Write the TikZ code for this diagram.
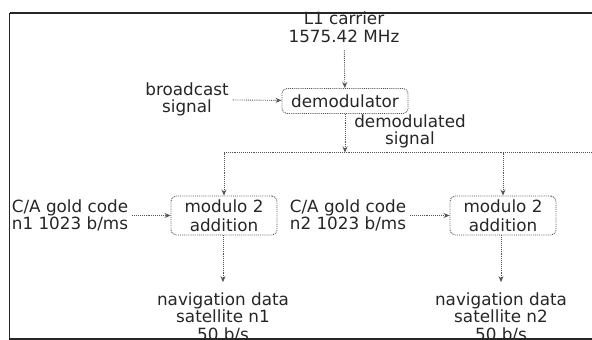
\documentclass[tikz,border=0pt]{standalone}
\usepackage{fontspec}
\setmainfont{DejaVu Sans}
\usetikzlibrary{arrows.meta}
\definecolor{ink}{HTML}{262626}
\definecolor{dots}{HTML}{555555}
\tikzset{
  lbl/.style={align=center, text=ink, inner sep=4pt, font=\fontsize{16.8}{17.5}\selectfont},
  blk/.style={draw=dots, densely dotted, line width=0.9pt, rounded corners=5pt, align=center, text=ink,
              font=\fontsize{16.8}{18.5}\selectfont, inner xsep=8pt, inner ysep=3pt},
  conn/.style={draw=dots, densely dotted, line width=0.9pt},
  arr/.style={conn, -{Stealth[length=6pt,width=5pt]}},
}
\begin{document}
\begin{tikzpicture}[x=1pt, y=-1pt]
\useasboundingbox (0,0) rectangle (592,340);
% frame
\draw[line width=1.6pt, ink] (9.5,13) -- (620,13);
\draw[line width=1.6pt, ink] (9.5,13) -- (9.5,339) -- (620,339);

\node[lbl, inner ysep=8pt] (l1) at (344,27) {L1 carrier\\1575.42 MHz};
\node[blk, minimum width=126pt, minimum height=25pt] (demod) at (345,101) {demodulator};
\node[lbl] (bc) at (187,99.5) {broadcast\\signal};
\node[lbl] (dsig) at (410,131.5) {demodulated\\signal};

\coordinate (busM) at (345,152.5);
\coordinate (busL) at (224,152.5);
\coordinate (busR) at (503,152.5);
\coordinate (busE) at (620,152.5);

\node[blk, minimum width=106pt, minimum height=39pt] (add1) at (224,215.5) {modulo 2\\addition};
\node[blk, minimum width=106pt, minimum height=39pt] (add2) at (503,215.5) {modulo 2\\addition};
\node[lbl] (ca1) at (70,215.5) {C/A gold code\\n1 1023 b/ms};
\node[lbl] (ca2) at (348,215.5) {C/A gold code\\n2 1023 b/ms};
\node[lbl, inner ysep=10pt] (nav1) at (223,317) {navigation data\\satellite n1\\50 b/s};
\node[lbl, inner ysep=10pt] (nav2) at (501,317) {navigation data\\satellite n2\\50 b/s};

\draw[arr] (l1) -- (demod);
\draw[arr] (bc) -- (demod);
\draw[arr] (demod) -- (busM);
\draw[conn] (busL) -- (busE);
\draw[arr] (busL) -- (add1);
\draw[arr] (busR) -- (add2);
\draw[arr] (ca1) -- (add1);
\draw[arr] (ca2) -- (add2);
\draw[arr] (add1.south -| nav1) -- (nav1);
\draw[arr] (add2.south -| nav2) -- (nav2);
\end{tikzpicture}
\end{document}
